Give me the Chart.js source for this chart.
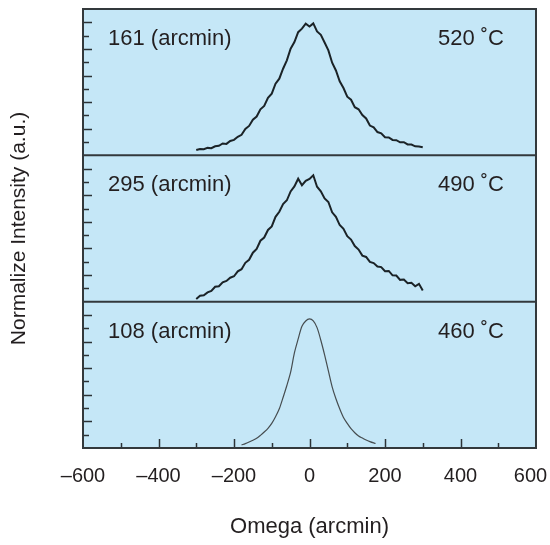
<!DOCTYPE html>
<html>
<head>
<meta charset="utf-8">
<script src="https://cdn.jsdelivr.net/npm/chart.js@4"></script>
<style>
  html, body { margin: 0; padding: 0; background: #fff; }
</style>
</head>
<body>
<canvas id="c" width="550" height="545"></canvas>
<script>
// Rocking curves, three growth temperatures, stacked panels
var omegaTicks = [-600, -400, -200, 0, 200, 400, 600];

// 520 C and 490 C share the same omega grid
var omegaWide = [-300, -290, -280, -270, -260, -250, -240, -230, -220, -210,
  -200, -190, -180, -170, -160, -150, -140, -130, -120, -110,
  -100, -90, -80, -70, -60, -50, -40, -30, -20, -10,
  0, 10, 20, 30, 40, 50, 60, 70, 80, 90,
  100, 110, 120, 130, 140, 150, 160, 170, 180, 190,
  200, 210, 220, 230, 240, 250, 260, 270, 280, 290, 300];

var int520 = [4.0, 4.8, 4.6, 5.6, 5.4, 6.8, 7.2, 8.9, 8.6, 10.8,
  11.6, 13.9, 15.4, 19.8, 22.1, 26.8, 29.2, 34.6, 37.1, 43.2,
  46.4, 53.8, 57.6, 65.1, 71.4, 80.2, 85.1, 92.6, 95.2, 99.0,
  96.8, 99.2, 93.1, 90.6, 84.8, 78.9, 69.6, 63.8, 55.7, 50.6,
  44.1, 41.8, 36.2, 34.6, 30.3, 27.7, 22.4, 21.1, 17.5, 16.6,
  13.6, 13.4, 11.6, 11.4, 9.8, 9.9, 8.2, 8.1, 6.8, 6.6, 6.0];

var int490 = [2.0, 4.4, 4.8, 7.0, 8.1, 11.2, 11.6, 14.5, 15.6, 18.0,
  19.1, 22.8, 24.4, 29.2, 31.5, 36.8, 39.6, 45.8, 48.2, 53.9,
  56.6, 63.8, 67.6, 73.4, 76.2, 82.9, 86.6, 92.4, 87.5, 90.8,
  92.2, 95.0, 86.4, 83.0, 77.6, 74.9, 67.2, 63.8, 57.6, 54.8,
  49.2, 46.7, 41.8, 39.2, 34.6, 33.6, 29.9, 29.0, 26.4, 26.0,
  22.9, 23.1, 19.8, 19.6, 16.4, 16.6, 13.9, 14.2, 11.6, 13.4, 8.4];

var omega460 = [-180, -170, -160, -150, -140, -130, -120, -110, -100, -90,
  -80, -70, -60, -50, -40, -30, -20, -10, 0, 10,
  20, 30, 40, 50, 60, 70, 80, 90, 100, 110,
  120, 130, 140, 150, 160, 170, 175];
var int460 = [2.3, 3.3, 4.5, 5.8, 7.3, 9.5, 12.0, 14.8, 18.5, 23.5,
  29.5, 38.0, 47.0, 57.0, 71.5, 82.0, 91.5, 95.5, 97.0, 95.5,
  90.5, 81.0, 70.0, 58.0, 46.0, 37.0, 29.5, 23.0, 18.5, 14.5,
  11.5, 9.0, 7.5, 6.0, 4.8, 3.8, 3.4];

var fwhmLabels = ['161 (arcmin)', '295 (arcmin)', '108 (arcmin)'];
var tempLabels = ['520 \u02DAC', '490 \u02DAC', '460 \u02DAC'];
var panelIds = ['pTop', 'pMid', 'pBot'];

function pts(xs, ys) {
  var out = [];
  for (var i = 0; i < xs.length; i++) out.push({ x: xs[i], y: ys[i] });
  return out;
}

var FONT = '"Liberation Sans", Arial, sans-serif';
var INK = '#231f20';

var panelsPlugin = {
  id: 'panels',
  beforeDatasetsDraw: function(chart) {
    var ctx = chart.ctx, a = chart.chartArea;
    ctx.save();
    ctx.fillStyle = '#c5e7f7';
    ctx.fillRect(a.left, a.top, a.right - a.left, a.bottom - a.top);
    ctx.restore();
  },
  afterDatasetsDraw: function(chart) {
    var ctx = chart.ctx, a = chart.chartArea;
    var xs = chart.scales.x;
    ctx.save();
    ctx.strokeStyle = '#2b3236';
    ctx.lineWidth = 1.5;

    // y ticks, inward, per panel
    panelIds.forEach(function(id) {
      var s = chart.scales[id];
      s.ticks.forEach(function(t) {
        if (t.value <= s.min || t.value >= s.max) return;
        var y = Math.round(s.getPixelForValue(t.value)) + 0.5;
        var len = (t.value % 20 === 0) ? 9 : 6;
        ctx.beginPath();
        ctx.moveTo(a.left, y);
        ctx.lineTo(a.left + len, y);
        ctx.stroke();
      });
    });

    // x ticks, inward, majors + minor midpoints
    xs.ticks.forEach(function(t, i) {
      var x = Math.round(xs.getPixelForValue(t.value)) + 0.5;
      if (t.value > xs.min && t.value < xs.max) {
        ctx.beginPath();
        ctx.moveTo(x, a.bottom);
        ctx.lineTo(x, a.bottom - 9);
        ctx.stroke();
      }
      if (i < xs.ticks.length - 1) {
        var mid = (t.value + xs.ticks[i + 1].value) / 2;
        var xm = Math.round(xs.getPixelForValue(mid)) + 0.5;
        ctx.beginPath();
        ctx.moveTo(xm, a.bottom);
        ctx.lineTo(xm, a.bottom - 5);
        ctx.stroke();
      }
    });

    // panel separators + frame
    ctx.lineWidth = 2;
    ctx.strokeStyle = '#33393c';
    [chart.scales.pMid.top, chart.scales.pMid.bottom].forEach(function(y) {
      ctx.beginPath();
      ctx.moveTo(a.left, y);
      ctx.lineTo(a.right, y);
      ctx.stroke();
    });
    ctx.strokeRect(a.left, a.top, a.right - a.left, a.bottom - a.top);

    // panel annotations
    ctx.fillStyle = INK;
    ctx.font = '22px ' + FONT;
    ctx.textBaseline = 'middle';
    panelIds.forEach(function(id, i) {
      var s = chart.scales[id];
      var y = s.top + 30;
      ctx.textAlign = 'left';
      ctx.fillText(fwhmLabels[i], a.left + 25, y);
      ctx.textAlign = 'right';
      ctx.fillText(tempLabels[i], a.right - 32, y);
    });

    // shared y title
    ctx.font = '21px ' + FONT;
    ctx.translate(19, (a.top + a.bottom) / 2);
    ctx.rotate(-Math.PI / 2);
    ctx.textAlign = 'center';
    ctx.fillText('Normalize Intensity (a.u.)', 0, 0);
    ctx.restore();
  }
};

function panelAxis() {
  return {
    type: 'linear',
    position: 'left',
    stack: 'panels',
    stackWeight: 1,
    min: 0,
    max: 110,
    ticks: { display: false, stepSize: 10 },
    grid: { display: false },
    border: { display: false },
    afterFit: function(s) { s.width = 83; }
  };
}

new Chart(document.getElementById('c'), {
  type: 'line',
  data: {
    datasets: [
      { label: '520', data: pts(omegaWide, int520), yAxisID: 'pTop', borderColor: '#1b2327', borderWidth: 2, pointRadius: 0, tension: 0 },
      { label: '490', data: pts(omegaWide, int490), yAxisID: 'pMid', borderColor: '#1b2327', borderWidth: 2, pointRadius: 0, tension: 0 },
      { label: '460', data: pts(omega460, int460), yAxisID: 'pBot', borderColor: '#464d50', borderWidth: 1.2, pointRadius: 0, tension: 0.3 }
    ]
  },
  options: {
    responsive: false,
    animation: false,
    layout: { padding: { top: 9, right: 14, left: 0, bottom: 0 } },
    plugins: { legend: { display: false }, tooltip: { enabled: false } },
    scales: {
      x: {
        type: 'linear',
        position: 'bottom',
        min: -600,
        max: 600,
        afterBuildTicks: function(s) { s.ticks = omegaTicks.map(function(v) { return { value: v }; }); },
        ticks: {
          color: INK,
          font: { family: FONT, size: 20 },
          padding: 8,
          maxRotation: 0,
          callback: function(v) {
            if (v < 0) return '\u2013' + Math.abs(v);
            // last label sits a little inside the frame edge
            return v === 600 ? v + '  ' : String(v);
          }
        },
        grid: { display: false },
        border: { display: false },
        title: {
          display: true,
          text: 'Omega (arcmin)',
          color: INK,
          font: { family: FONT, size: 22 },
          padding: { top: 0, bottom: 5 }
        },
        afterFit: function(s) { s.height = 97; s.paddingLeft = 0; s.paddingRight = 0; }
      },
      pBot: panelAxis(),
      pMid: panelAxis(),
      pTop: panelAxis()
    }
  },
  plugins: [panelsPlugin]
});
</script>
</body>
</html>
